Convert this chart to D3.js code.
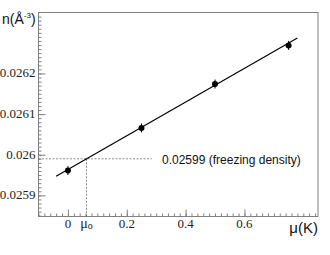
<!DOCTYPE html>
<html><head><meta charset="utf-8">
<script src="https://cdn.jsdelivr.net/npm/d3@7"></script>
<style>body{margin:0;background:#fff}svg{display:block}</style>
</head><body>
<svg id="c" width="330" height="255"></svg>
<script>
const mu = [0, 0.25, 0.5, 0.75];
const density = [0.025961, 0.026066, 0.026174, 0.026269];
const densityErr = [0.000011, 0.000011, 0.000011, 0.000011];
const fitMu = [-0.04, 0.78];
const fitDensity = [0.025947, 0.026287];
const freezeDensity = 0.02599;
const mu0 = 0.063;
const xTicks = [0, 0.2, 0.4, 0.6];
const xTickLabels = ["0", "0.2", "0.4", "0.6"];
const yTicks = [0.0259, 0.026, 0.0261, 0.0262];
const yTickLabels = ["0.0259", "0.026", "0.0261", "0.0262"];

const L = 38.5, R = 318, T = 12.5, B = 216.5;
const x = d3.scaleLinear().domain([-0.1, 0.85]).range([L, R]);
const y = d3.scaleLinear().domain([0.025848, 0.02635]).range([B, T]);
const svg = d3.select("#c");

// frame
svg.append("rect").attr("x", L).attr("y", T).attr("width", R - L).attr("height", B - T)
  .attr("fill", "none").attr("stroke", "#808080").attr("stroke-width", 1);

// y axis ticks (inward)
const yMinor = d3.range(0.02585, 0.02635, 0.00001);
svg.append("g").attr("transform", `translate(${L},0)`)
  .call(d3.axisRight(y).tickValues(yMinor).tickSize(3).tickFormat(""))
  .call(g => g.select(".domain").remove())
  .call(g => g.selectAll("line").attr("stroke", "#808080"));
svg.append("g").attr("transform", `translate(${L},0)`)
  .call(d3.axisRight(y).tickValues(yTicks).tickSize(7).tickFormat(""))
  .call(g => g.select(".domain").remove())
  .call(g => g.selectAll("line").attr("stroke", "#808080"));
// x axis ticks (inward)
const xMinor = d3.range(-0.1, 0.851, 0.02);
svg.append("g").attr("transform", `translate(0,${B})`)
  .call(d3.axisTop(x).tickValues(xMinor).tickSize(3).tickFormat(""))
  .call(g => g.select(".domain").remove())
  .call(g => g.selectAll("line").attr("stroke", "#808080"));
svg.append("g").attr("transform", `translate(0,${B})`)
  .call(d3.axisTop(x).tickValues(xTicks).tickSize(7).tickFormat(""))
  .call(g => g.select(".domain").remove())
  .call(g => g.selectAll("line").attr("stroke", "#808080"));

// tick labels
svg.append("g").selectAll("text").data(yTicks).join("text")
  .attr("x", L - 3).attr("y", d => y(d) + 4)
  .attr("text-anchor", "end").attr("font-family", "Liberation Serif, serif")
  .attr("font-size", 13).attr("fill", "#222").text((d, i) => yTickLabels[i]);
svg.append("g").selectAll("text").data(xTicks).join("text")
  .attr("x", d => x(d)).attr("y", 228)
  .attr("text-anchor", "middle").attr("font-family", "Liberation Serif, serif")
  .attr("font-size", 13).attr("fill", "#222").text((d, i) => xTickLabels[i]);

// mu0 label
const m0 = svg.append("text").attr("x", x(mu0)).attr("y", 228)
  .attr("text-anchor", "middle").attr("font-family", "Liberation Serif, serif")
  .attr("font-size", 14).attr("fill", "#222");
m0.append("tspan").text("μ");
m0.append("tspan").attr("font-size", 10).attr("dy", 1).text("o");

// dashed guides
svg.append("line").attr("x1", L).attr("x2", x(0.285))
  .attr("y1", y(freezeDensity)).attr("y2", y(freezeDensity))
  .attr("stroke", "#555").attr("stroke-width", 0.7).attr("stroke-dasharray", "2,1.5");
svg.append("line").attr("x1", x(mu0)).attr("x2", x(mu0))
  .attr("y1", y(freezeDensity)).attr("y2", B)
  .attr("stroke", "#555").attr("stroke-width", 0.7).attr("stroke-dasharray", "2,1.5");

// fit line
svg.append("path").datum(fitMu.map((m, i) => [m, fitDensity[i]]))
  .attr("d", d3.line().x(d => x(d[0])).y(d => y(d[1])))
  .attr("fill", "none").attr("stroke", "#000").attr("stroke-width", 1.2);

// error bars and points
const pts = mu.map((m, i) => ({m, v: density[i], e: densityErr[i]}));
svg.append("g").selectAll("line").data(pts).join("line")
  .attr("x1", d => x(d.m)).attr("x2", d => x(d.m))
  .attr("y1", d => y(d.v - d.e)).attr("y2", d => y(d.v + d.e))
  .attr("stroke", "#000").attr("stroke-width", 1);
svg.append("g").selectAll("circle").data(pts).join("circle")
  .attr("cx", d => x(d.m)).attr("cy", d => y(d.v)).attr("r", 3).attr("fill", "#000");

// annotation
svg.append("text").attr("x", 162).attr("y", 164)
  .attr("font-family", "Liberation Sans, Arial, sans-serif").attr("font-size", 12)
  .attr("fill", "#111").text(freezeDensity + " (freezing density)");

// axis titles
const yt = svg.append("text").attr("x", 2).attr("y", 24)
  .attr("font-family", "Liberation Sans, Arial, sans-serif").attr("font-size", 14).attr("fill", "#111");
yt.append("tspan").text("n(Å");
yt.append("tspan").attr("font-size", 8).attr("dy", -6).text("-3");
yt.append("tspan").attr("dy", 6).text(")");
svg.append("text").attr("x", R).attr("y", 233).attr("text-anchor", "end")
  .attr("font-family", "Liberation Sans, Arial, sans-serif").attr("font-size", 15)
  .attr("fill", "#111").text("μ(K)");
</script>
</body></html>
